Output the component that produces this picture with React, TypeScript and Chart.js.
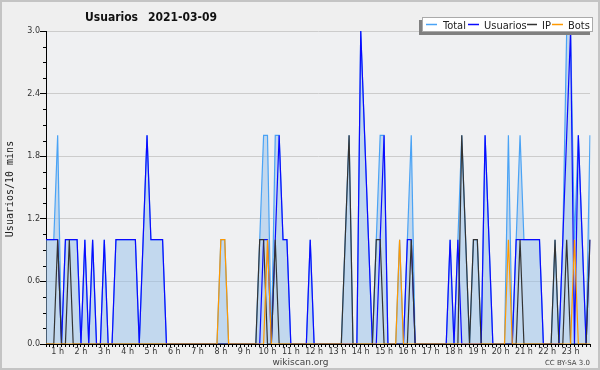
import React, { useEffect, useRef } from 'react';
import { Chart, registerables } from 'chart.js';

Chart.register(...registerables);

// 10-minute samples, 00:00 .. 23:20 (141 points)
const TOTAL = [
  1, 1, 1, 2, 0, 1,
  1, 1, 1, 0, 1, 0,
  1, 0, 0, 1, 0, 0,
  1, 1, 1, 1, 1, 1,
  0, 1, 2, 1, 1, 1,
  1, 0, 0, 0, 0, 0,
  0, 0, 0, 0, 0, 0,
  0, 0, 0, 1, 1, 0,
  0, 0, 0, 0, 0, 0,
  0, 1, 2, 2, 0, 2,
  2, 1, 1, 0, 0, 0,
  0, 0, 1, 0, 0, 0,
  0, 0, 0, 0, 0, 1,
  2, 0, 0, 3, 2, 1,
  0, 1, 2, 2, 0, 0,
  0, 1, 0, 1, 2, 0,
  0, 0, 0, 0, 0, 0,
  0, 0, 1, 0, 1, 2,
  1, 0, 1, 1, 0, 2,
  1, 0, 0, 0, 0, 2,
  0, 1, 2, 1, 1, 1,
  1, 1, 0, 0, 0, 1,
  0, 1, 3, 3, 1, 2,
  1, 0, 2,
];

const USUARIOS = [
  1, 1, 1, 1, 0, 1,
  1, 1, 1, 0, 1, 0,
  1, 0, 0, 1, 0, 0,
  1, 1, 1, 1, 1, 1,
  0, 1, 2, 1, 1, 1,
  1, 0, 0, 0, 0, 0,
  0, 0, 0, 0, 0, 0,
  0, 0, 0, 0, 0, 0,
  0, 0, 0, 0, 0, 0,
  0, 0, 1, 1, 0, 1,
  2, 1, 1, 0, 0, 0,
  0, 0, 1, 0, 0, 0,
  0, 0, 0, 0, 0, 0,
  0, 0, 0, 3, 2, 1,
  0, 0, 1, 2, 0, 0,
  0, 0, 0, 1, 1, 0,
  0, 0, 0, 0, 0, 0,
  0, 0, 1, 0, 1, 0,
  0, 0, 0, 0, 0, 2,
  1, 0, 0, 0, 0, 0,
  0, 1, 1, 1, 1, 1,
  1, 1, 0, 0, 0, 0,
  0, 1, 2, 3, 0, 2,
  1, 0, 1,
];

const IP = [
  0, 0, 0, 1, 0, 0,
  1, 0, 0, 0, 0, 0,
  0, 0, 0, 0, 0, 0,
  0, 0, 0, 0, 0, 0,
  0, 0, 0, 0, 0, 0,
  0, 0, 0, 0, 0, 0,
  0, 0, 0, 0, 0, 0,
  0, 0, 0, 0, 0, 0,
  0, 0, 0, 0, 0, 0,
  0, 1, 1, 0, 0, 1,
  0, 0, 0, 0, 0, 0,
  0, 0, 0, 0, 0, 0,
  0, 0, 0, 0, 0, 1,
  2, 0, 0, 0, 0, 0,
  0, 1, 1, 0, 0, 0,
  0, 0, 0, 0, 1, 0,
  0, 0, 0, 0, 0, 0,
  0, 0, 0, 0, 0, 2,
  1, 0, 1, 1, 0, 0,
  0, 0, 0, 0, 0, 0,
  0, 0, 1, 0, 0, 0,
  0, 0, 0, 0, 0, 1,
  0, 0, 1, 0, 0, 0,
  0, 0, 1,
];

const BOTS = [
  0, 0, 0, 0, 0, 0,
  0, 0, 0, 0, 0, 0,
  0, 0, 0, 0, 0, 0,
  0, 0, 0, 0, 0, 0,
  0, 0, 0, 0, 0, 0,
  0, 0, 0, 0, 0, 0,
  0, 0, 0, 0, 0, 0,
  0, 0, 0, 1, 1, 0,
  0, 0, 0, 0, 0, 0,
  0, 0, 0, 1, 0, 0,
  0, 0, 0, 0, 0, 0,
  0, 0, 0, 0, 0, 0,
  0, 0, 0, 0, 0, 0,
  0, 0, 0, 0, 0, 0,
  0, 0, 0, 0, 0, 0,
  0, 1, 0, 0, 0, 0,
  0, 0, 0, 0, 0, 0,
  0, 0, 0, 0, 0, 0,
  0, 0, 0, 0, 0, 0,
  0, 0, 0, 0, 0, 1,
  0, 0, 0, 0, 0, 0,
  0, 0, 0, 0, 0, 0,
  0, 0, 0, 0, 1, 0,
  0, 0, 0,
];

const HOUR_LABELS = [
  '1 h', '2 h', '3 h', '4 h', '5 h', '6 h', '7 h', '8 h', '9 h', '10 h', '11 h', '12 h',
  '13 h', '14 h', '15 h', '16 h', '17 h', '18 h', '19 h', '20 h', '21 h', '22 h', '23 h',
];

const Y_TICKS = [0, 0.6, 1.2, 1.8, 2.4, 3.0];
const Y_MINOR = [0.15, 0.3, 0.45, 0.75, 0.9, 1.05, 1.35, 1.5, 1.65, 1.95, 2.1, 2.25, 2.55, 2.7, 2.85];

const TITLE = 'Usuarios';
const DATE = '2021-03-09';
const Y_TITLE = 'Usuarios/10 mins';

const SERIES = [
  { label: 'Total', data: TOTAL, color: '#4aa3f5' },
  { label: 'Usuarios', data: USUARIOS, color: '#0a0aff' },
  { label: 'IP', data: IP, color: '#333333' },
  { label: 'Bots', data: BOTS, color: '#ff9900' },
];

const TIMES = TOTAL.map((_, i) => {
  const h = Math.floor(i / 6);
  const m = (i % 6) * 10;
  return `${String(h).padStart(2, '0')}:${String(m).padStart(2, '0')}`;
});

const COND = '"DejaVu Sans Condensed", "DejaVu Sans", sans-serif';

const decor = {
  id: 'decor',
  beforeDraw(chart: any) {
    const { ctx, chartArea: a } = chart;
    ctx.save();
    ctx.fillStyle = '#efefef';
    ctx.fillRect(0, 0, chart.width, chart.height);
    ctx.fillStyle = '#eff0f2';
    ctx.fillRect(a.left, a.top, a.right - a.left, a.bottom - a.top);
    ctx.restore();
  },
  afterDraw(chart: any) {
    const { ctx, chartArea: a } = chart;
    const y = chart.scales.y;
    ctx.save();
    // minor y ticks
    ctx.strokeStyle = '#000';
    ctx.lineWidth = 1;
    ctx.beginPath();
    for (const v of Y_MINOR) {
      const py = Math.round(y.getPixelForValue(v)) + 0.5;
      ctx.moveTo(a.left - 3, py);
      ctx.lineTo(a.left, py);
    }
    ctx.stroke();

    // title
    ctx.fillStyle = '#111';
    ctx.font = `bold 12px ${COND}`;
    ctx.textBaseline = 'alphabetic';
    ctx.textAlign = 'left';
    ctx.fillText(TITLE, 85, 21);
    ctx.textAlign = 'right';
    ctx.fillText(DATE, 217, 21);

    // legend
    const bx = 422, by = 17, bw = 171, bh = 15;
    ctx.fillStyle = '#808080';
    ctx.fillRect(bx - 3, by + 3, bw, bh);
    ctx.fillStyle = '#ffffff';
    ctx.fillRect(bx, by, bw, bh);
    ctx.strokeStyle = '#aaa';
    ctx.lineWidth = 1;
    ctx.strokeRect(bx + 0.5, by + 0.5, bw - 1, bh - 1);
    const items = [
      { x1: 426, x2: 437, tx: 443 },
      { x1: 468, x2: 479, tx: 484 },
      { x1: 527, x2: 537, tx: 542 },
      { x1: 552, x2: 563, tx: 568 },
    ];
    ctx.font = `11px ${COND}`;
    ctx.textAlign = 'left';
    items.forEach((it, k) => {
      ctx.strokeStyle = SERIES[k].color;
      ctx.lineWidth = 1.5;
      ctx.beginPath();
      ctx.moveTo(it.x1, 24.5);
      ctx.lineTo(it.x2, 24.5);
      ctx.stroke();
      ctx.fillStyle = '#222';
      ctx.fillText(SERIES[k].label, it.tx, 28.5);
    });

    // footer
    ctx.fillStyle = '#444';
    ctx.font = '9px "DejaVu Sans", sans-serif';
    ctx.textAlign = 'center';
    ctx.fillText('wikiscan.org', 300.5, 365);
    ctx.font = '7px "DejaVu Sans", sans-serif';
    ctx.textAlign = 'right';
    ctx.fillText('CC BY-SA 3.0', 590, 365);

    // y title
    ctx.save();
    ctx.translate(13, 189);
    ctx.rotate(-Math.PI / 2);
    ctx.font = '10px "DejaVu Sans Mono", monospace';
    ctx.fillStyle = '#222';
    ctx.textAlign = 'center';
    ctx.fillText(Y_TITLE, 0, 0);
    ctx.restore();

    // frame
    ctx.strokeStyle = '#c4c4c4';
    ctx.lineWidth = 2;
    ctx.strokeRect(1, 1, chart.width - 2, chart.height - 2);
    ctx.restore();
  },
};

export default function App() {
  const ref = useRef<HTMLCanvasElement | null>(null);
  useEffect(() => {
    document.body.style.margin = '0';
    const canvas = ref.current;
    if (!canvas) return;
    const order = [4, 3, 2, 1];
    const chart = new Chart(canvas, {
      type: 'line',
      data: {
        labels: TIMES,
        datasets: SERIES.map((s, k) => ({
          label: s.label,
          data: s.data,
          borderColor: s.color,
          backgroundColor: k === 0 ? 'rgba(150,192,234,0.5)' : 'transparent',
          fill: k === 0 ? 'origin' : false,
          borderWidth: 1.2,
          pointRadius: 0,
          tension: 0,
          order: order[k],
        })),
      },
      options: {
        animation: false,
        responsive: false,
        maintainAspectRatio: false,
        layout: { padding: { left: 0, top: 31, right: 10, bottom: 0 } },
        plugins: {
          legend: { display: false },
          title: { display: false },
          tooltip: { enabled: false },
        },
        scales: {
          x: {
            type: 'category',
            offset: false,
            afterFit: (s: any) => { s.height = 26; },
            grid: { drawOnChartArea: false, tickLength: 3, color: '#000', tickColor: '#000' },
            border: { color: '#000', width: 1 },
            ticks: {
              autoSkip: false,
              maxRotation: 0,
              minRotation: 0,
              padding: 0,
              color: '#333',
              font: { family: '"DejaVu Sans", sans-serif', size: 8 },
              callback: (_v: any, i: number) => (i % 6 === 3 ? HOUR_LABELS[(i - 3) / 6] ?? '' : ''),
            },
          },
          y: {
            min: 0,
            max: 3,
            afterFit: (s: any) => { s.width = 46; },
            afterBuildTicks: (s: any) => { s.ticks = Y_TICKS.map((v) => ({ value: v })); },
            grid: {
              color: (c: any) => (c.tick && c.tick.value === 0 ? 'transparent' : '#cccccc'),
              tickColor: '#000',
              tickLength: 6,
              lineWidth: 1,
            },
            border: { color: '#000', width: 1 },
            ticks: {
              padding: 0,
              color: '#333',
              font: { family: '"DejaVu Sans", sans-serif', size: 8 },
              callback: (v: any) => Number(v).toFixed(1),
            },
          },
        },
      },
      plugins: [decor],
    });
    return () => chart.destroy();
  }, []);
  return (
    <div style={{ width: 600, height: 370 }}>
      <canvas ref={ref} width={600} height={370} />
    </div>
  );
}
